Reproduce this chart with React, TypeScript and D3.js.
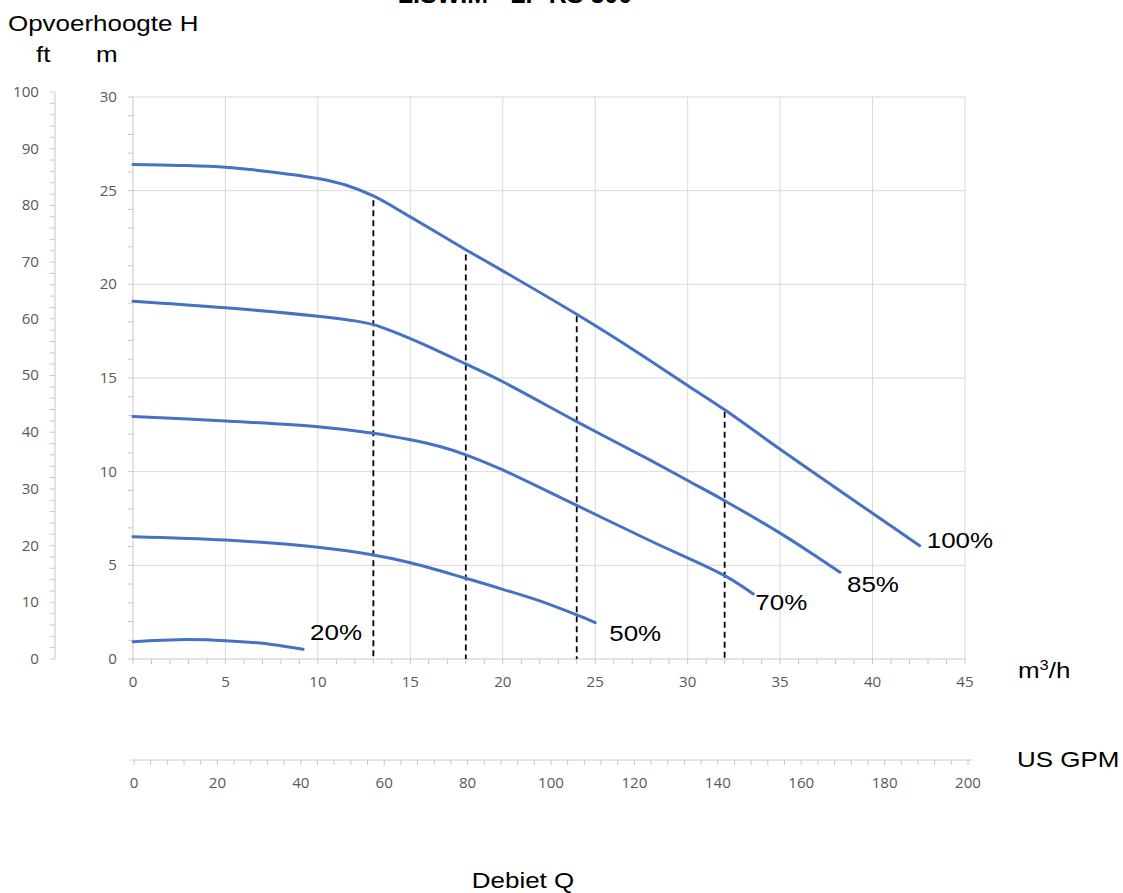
import React from "react";
import * as d3 from "d3";

// ---- data ----
const seriesNames = ["100%", "85%", "70%", "50%", "20%"];
const flowQ100 = [0, 2.5, 5, 7.5, 10, 11.5, 13, 15, 18, 20, 24, 27, 30, 32, 35, 38, 40, 42.55];
const head100 = [26.4, 26.35, 26.25, 26.0, 25.65, 25.3, 24.72, 23.6, 21.85, 20.72, 18.4, 16.55, 14.6, 13.3, 11.2, 9.14, 7.78, 6.05];
const flowQ85 = [0, 5, 10, 12, 13, 14, 15, 16.6, 18, 20, 24, 28, 30, 32, 35, 37, 38.24];
const head85 = [19.1, 18.75, 18.3, 18.05, 17.85, 17.5, 17.1, 16.4, 15.75, 14.8, 12.67, 10.6, 9.53, 8.45, 6.72, 5.45, 4.63];
const flowQ70 = [0, 5, 10, 13, 15, 16.6, 18, 20, 24, 28, 32, 33.55];
const head70 = [12.95, 12.7, 12.4, 12.05, 11.7, 11.34, 10.9, 10.09, 8.2, 6.3, 4.45, 3.47];
const flowQ50 = [0, 5, 10, 13, 15, 18, 20, 22, 24, 25];
const head50 = [6.53, 6.35, 5.96, 5.55, 5.14, 4.31, 3.72, 3.1, 2.35, 1.94];
const flowQ20 = [0, 1.5, 3, 5, 7.5, 9.2];
const head20 = [0.92, 1.0, 1.04, 0.98, 0.78, 0.52];

const dropQ = [13, 18, 24, 32];
const dropH = [24.6, 21.7, 18.4, 13.3];

const xTicksM3h = [0, 5, 10, 15, 20, 25, 30, 35, 40, 45];
const yTicksM = [0, 5, 10, 15, 20, 25, 30];
const yTicksFt = [0, 10, 20, 30, 40, 50, 60, 70, 80, 90, 100];
const gpmTicks = [0, 20, 40, 60, 80, 100, 120, 140, 160, 180, 200];

const titleText = "LISWIM - LP RS 300";

// ---- layout / style ----
const W = 1123, H = 893;
const labelOffsets: [number, number][] = [[7, 2], [7, 20], [2, 16], [14, 18], [7, -9]];
const tickFont = "'Open Sans', sans-serif";
const bigFont = "'Liberation Sans', Arial, sans-serif";
const gridColor = "#d9d9d9";
const axisColor = "#c8c8c8";
const tickTextColor = "#595959";
const lineColor = "#4472C4";
const bigStretch = 1.18;
const tickStretch = 1.08;

function BigText(props: { x: number; y: number; anchor?: string; children: React.ReactNode }) {
  return (
    <text
      transform={`translate(${props.x},${props.y}) scale(${bigStretch},1)`}
      textAnchor={props.anchor || "start"}
      fontFamily={bigFont}
      fontSize={22}
      fill="#000"
    >
      {props.children}
    </text>
  );
}

function TickText(props: { x: number; y: number; anchor: string; dy?: string; children: React.ReactNode }) {
  return (
    <text
      transform={`translate(${props.x},${props.y}) scale(${tickStretch},1)`}
      textAnchor={props.anchor}
      dy={props.dy}
      fontFamily={tickFont}
      fontSize={14}
      fill={tickTextColor}
    >
      {props.children}
    </text>
  );
}

export default function App() {
  const x = d3.scaleLinear().domain([0, 45]).range([133, 965]);
  const y = d3.scaleLinear().domain([0, 30]).range([659, 97]);
  const yFt = d3.scaleLinear().domain([0, 100]).range([659, 92]);
  const gpm = d3.scaleLinear().domain([0, 200]).range([134, 968]);

  const series = [
    { q: flowQ100, h: head100 },
    { q: flowQ85, h: head85 },
    { q: flowQ70, h: head70 },
    { q: flowQ50, h: head50 },
    { q: flowQ20, h: head20 },
  ];

  const line = d3
    .line<[number, number]>()
    .x((d) => x(d[0]))
    .y((d) => y(d[1]))
    .curve(d3.curveCatmullRom.alpha(0.5));

  const minorX = d3.range(0, 46, 1);
  const minorM = d3.range(0, 31, 1);
  const minorFt = d3.range(0, 101, 2);
  const minorGpm = d3.range(0, 201, 4);

  return (
    <svg
      width={W}
      height={H}
      style={{ position: "absolute", left: 0, top: 0, background: "#fff" }}
    >
      {/* title (cut off at top, as in the reference) */}
      <text x={515} y={3} textAnchor="middle" fontFamily={bigFont} fontWeight="bold" fontSize={25} fill="#000">
        {titleText}
      </text>

      {/* gridlines */}
      {xTicksM3h.filter((t) => t > 0).map((t) => (
        <line key={"gx" + t} x1={x(t)} x2={x(t)} y1={y(30)} y2={y(0)} stroke={gridColor} strokeWidth={1} />
      ))}
      {yTicksM.filter((t) => t > 0).map((t) => (
        <line key={"gy" + t} x1={x(0)} x2={x(45)} y1={y(t)} y2={y(t)} stroke={gridColor} strokeWidth={1} />
      ))}

      {/* m axis */}
      <line x1={x(0)} x2={x(0)} y1={y(30)} y2={y(0)} stroke={axisColor} />
      {minorM.map((t) => (
        <line key={"mm" + t} x1={x(0) - 5} x2={x(0)} y1={y(t)} y2={y(t)} stroke={axisColor} />
      ))}
      {yTicksM.map((t) => (
        <TickText key={"lm" + t} x={117} y={y(t)} dy="0.35em" anchor="end">{t}</TickText>
      ))}

      {/* ft axis */}
      <line x1={55} x2={55} y1={yFt(100)} y2={yFt(0)} stroke={axisColor} />
      {minorFt.map((t) => (
        <line key={"mf" + t} x1={50} x2={55} y1={yFt(t)} y2={yFt(t)} stroke={axisColor} />
      ))}
      {yTicksFt.map((t) => (
        <TickText key={"lf" + t} x={39} y={yFt(t)} dy="0.35em" anchor="end">{t}</TickText>
      ))}

      {/* x axis m3/h */}
      <line x1={x(0)} x2={x(45)} y1={y(0)} y2={y(0)} stroke={axisColor} />
      {minorX.map((t) => (
        <line key={"mx" + t} x1={x(t)} x2={x(t)} y1={y(0)} y2={y(0) + 5} stroke={axisColor} />
      ))}
      {xTicksM3h.map((t) => (
        <TickText key={"lx" + t} x={x(t)} y={687} anchor="middle">{t}</TickText>
      ))}

      {/* GPM axis */}
      <line x1={gpm(0) - 4} x2={gpm(200) + 4} y1={760} y2={760} stroke={axisColor} />
      {minorGpm.map((t) => (
        <line key={"mg" + t} x1={gpm(t)} x2={gpm(t)} y1={760} y2={765} stroke={axisColor} />
      ))}
      {gpmTicks.map((t) => (
        <TickText key={"lg" + t} x={gpm(t)} y={788} anchor="middle">{t}</TickText>
      ))}

      {/* dashed drop lines */}
      {dropQ.map((q, i) => (
        <line
          key={"d" + q}
          x1={x(q)}
          x2={x(q)}
          y1={y(dropH[i]) + 2}
          y2={y(0)}
          stroke="#000"
          strokeWidth={1.8}
          strokeDasharray="6,4"
        />
      ))}

      {/* curves */}
      {series.map((s, i) => {
        const pts: [number, number][] = s.q.map((q, j) => [q, s.h[j]]);
        return (
          <path key={"c" + i} d={line(pts) || ""} fill="none" stroke={lineColor} strokeWidth={3} strokeLinecap="round" />
        );
      })}

      {/* curve labels */}
      {series.map((s, i) => {
        const lq = s.q[s.q.length - 1];
        const lh = s.h[s.h.length - 1];
        return (
          <BigText key={"l" + i} x={x(lq) + labelOffsets[i][0]} y={y(lh) + labelOffsets[i][1]}>
            {seriesNames[i]}
          </BigText>
        );
      })}

      {/* axis titles */}
      <BigText x={8} y={31}>Opvoerhoogte H</BigText>
      <BigText x={36} y={62}>ft</BigText>
      <BigText x={96} y={62}>m</BigText>
      <BigText x={1018} y={678}>
        m<tspan dy={-8} fontSize={14}>3</tspan><tspan dy={8}>/h</tspan>
      </BigText>
      <BigText x={1017} y={767}>US GPM</BigText>
      <BigText x={523} y={888} anchor="middle">Debiet Q</BigText>
    </svg>
  );
}
